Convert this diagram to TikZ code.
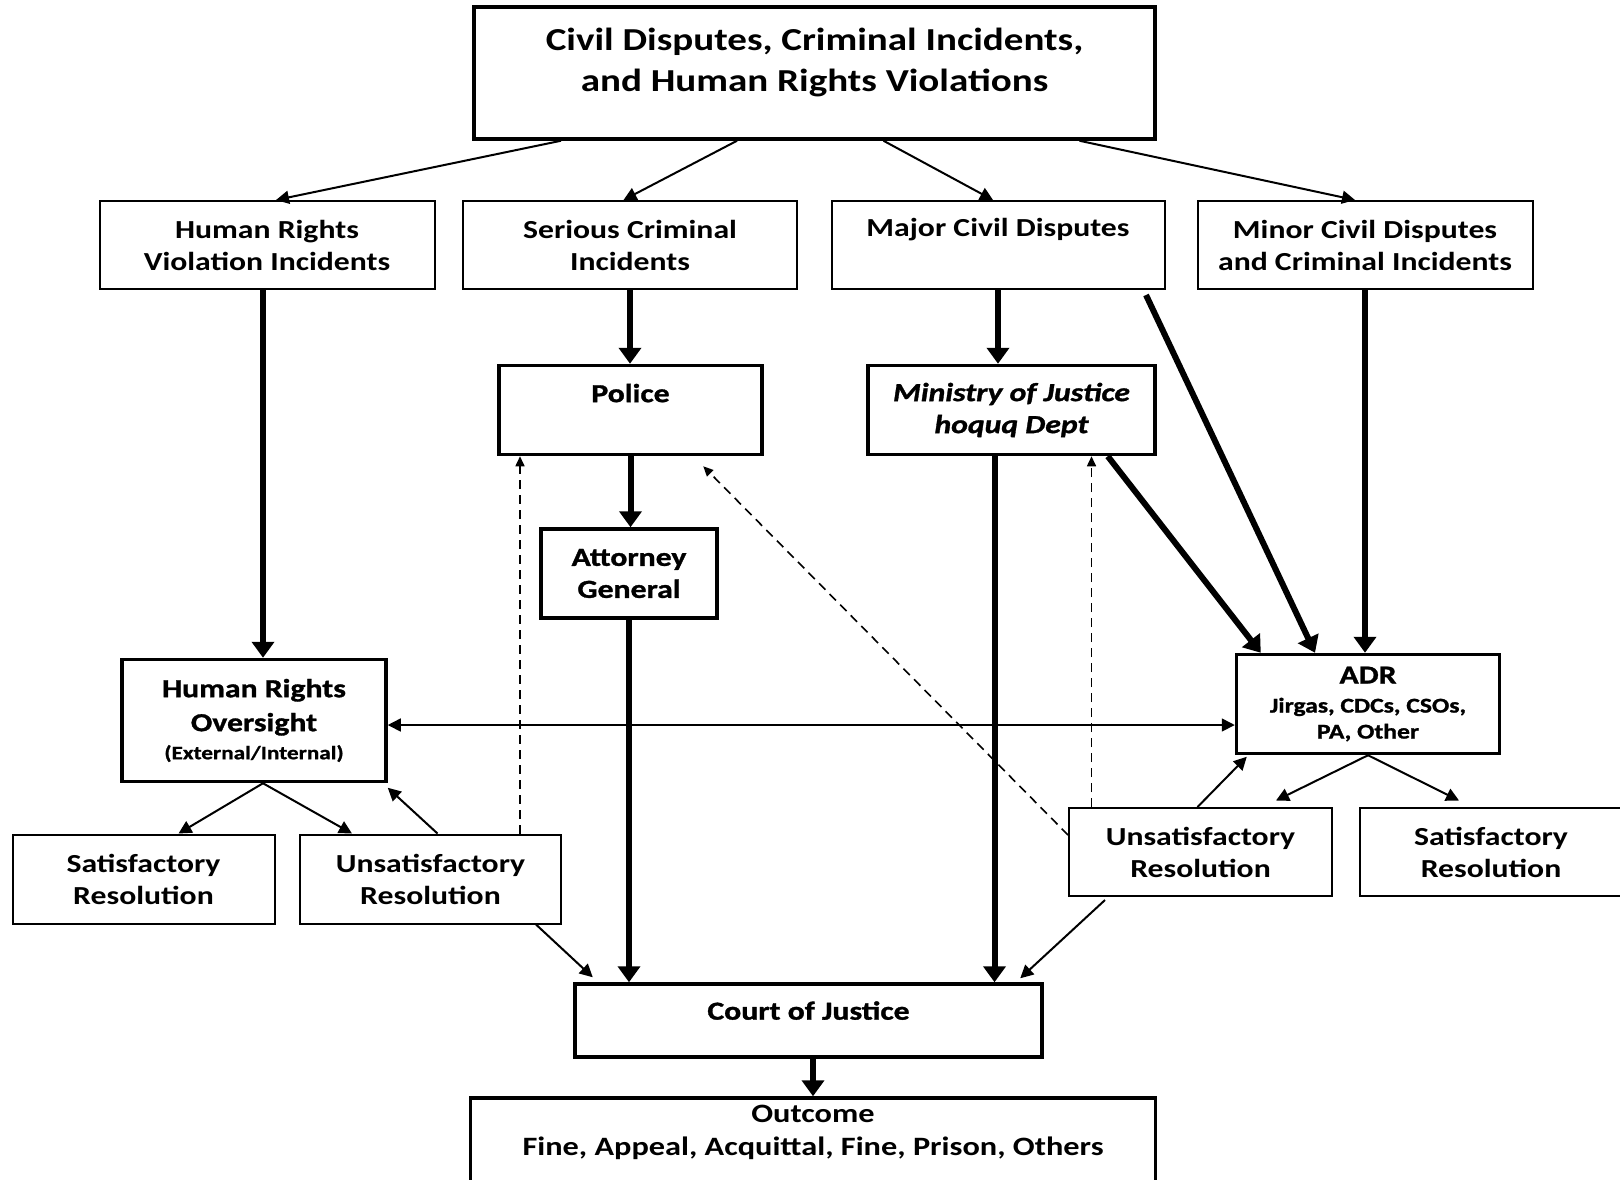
\documentclass[tikz,border=0pt]{standalone}
\usepackage{fontspec}
\setmainfont{Carlito}[FakeStretch=1.22]
\newfontfamily\heavyfont{Carlito}[FakeStretch=1.22, FakeBold=1.2]
\usetikzlibrary{arrows.meta,positioning}
\newcommand{\lowpad}[1][0pt]{\\[#1]\mbox{}}

\begin{document}
\begin{tikzpicture}[
    x=0.5pt, y=-0.5pt,
    boxfont/.style={font=\fontsize{13}{16}\selectfont\bfseries},
    heavytext/.style={font=\fontsize{13}{16}\selectfont\heavyfont\bfseries},
    thinbox/.style={draw, line width=1pt, inner sep=0, align=center, boxfont},
    thickbox/.style={draw, line width=1.75pt, inner sep=0, align=center, boxfont},
    bigarrow/.style={line width=3pt, -{Triangle[length=8pt, width=11pt]}},
    smallarrow/.style={line width=1pt, -{Triangle[length=6.5pt, width=6.5pt]}},
    twoway/.style={line width=0.8pt, {Triangle[length=6.5pt, width=6.5pt]}-{Triangle[length=6.5pt, width=6.5pt]}},
    dasharrow/.style={line width=0.8pt, dash pattern=on 4.5pt off 3pt, -{Triangle[length=5pt, width=4.5pt]}}]
\useasboundingbox (0,0) rectangle (1620,1179);
\clip (0,0) rectangle (1620,1179);

\node[thickbox, minimum width=340.5pt, minimum height=66pt, font=\fontsize{16}{20.5}\selectfont\bfseries] (top) at (814.5,73) {Civil Disputes, Criminal Incidents,\\and Human Rights Violations\lowpad[-7pt]};
\node[thinbox, minimum width=167.5pt, minimum height=44pt] (hrvi) at (267,245) {Human Rights\\Violation Incidents};
\node[thinbox, minimum width=167pt, minimum height=44pt] (sci) at (630,245) {Serious Criminal\\Incidents};
\node[thinbox, minimum width=166.5pt, minimum height=44pt] (mcd) at (998,245) {Major Civil Disputes\lowpad[2pt]};
\node[thinbox, minimum width=167.5pt, minimum height=44pt] (minor) at (1365,245) {Minor Civil Disputes\\and Criminal Incidents};
\node[thickbox, heavytext, minimum width=131.5pt, minimum height=44.5pt] (police) at (630.5,410) {Police\lowpad[1pt]};
\node[thickbox, minimum width=143.5pt, minimum height=44.5pt, font=\fontsize{13}{16}\selectfont\heavyfont\bfseries\itshape] (moj) at (1011.5,410) {Ministry of Justice\\hoquq Dept};
\node[thickbox, heavytext, minimum width=88pt, minimum height=44.5pt] (ag) at (629,573.5) {Attorney\\General};
\node[thickbox, heavytext, minimum width=132pt, minimum height=61pt] (hro) at (254,720.5) {Human Rights\\[1pt]Oversight\\[-2pt]{\fontsize{9.5}{11}\selectfont(External/Internal)}};
\node[thickbox, heavytext, minimum width=131.5pt, minimum height=49.5pt] (adr) at (1368,704) {ADR\\[-1.5pt]{\fontsize{10.5}{13}\selectfont Jirgas, CDCs, CSOs,}\\[-3pt]{\fontsize{10.5}{13}\selectfont PA, Other}};
\node[thinbox, minimum width=131pt, minimum height=44.5pt] (satl) at (143.5,879) {Satisfactory\\Resolution};
\node[thinbox, minimum width=130.5pt, minimum height=44.5pt] (unsatl) at (430.5,879) {Unsatisfactory\\Resolution};
\node[thinbox, minimum width=131.5pt, minimum height=44pt] (unsatr) at (1200.5,852) {Unsatisfactory\\Resolution};
\node[thinbox, minimum width=131pt, minimum height=44pt] (satr) at (1491,852) {Satisfactory\\Resolution};
\node[thickbox, heavytext, minimum width=233.5pt, minimum height=36.5pt] (court) at (808.5,1020.5) {Court of Justice\lowpad[-6pt]};
\node[thickbox, minimum width=342.5pt, minimum height=55pt, font=\fontsize{13.25}{16.5}\selectfont\bfseries] (outcome) at (813,1153) {Outcome\\Fine, Appeal, Acquittal, Fine, Prison, Others\lowpad[6pt]};

\path[draw, smallarrow] ([xshift=-126.75pt]top.south) -- ([xshift=4.5pt]hrvi.north);
\path[draw, smallarrow] ([xshift=-38.75pt]top.south) -- ([xshift=-3.25pt]sci.north);
\path[draw, smallarrow] ([xshift=34.5pt]top.south) -- ([xshift=-2.5pt]mcd.north);
\path[draw, smallarrow] ([xshift=132.5pt]top.south) -- ([xshift=-5pt]minor.north);

\path[draw, bigarrow] ([xshift=-2pt]hrvi.south) -- ([xshift=-2pt]hrvi.south |- hro.north);
\path[draw, bigarrow] (sci.south) -- (sci.south |- police.north);
\path[draw, bigarrow] (police.south) -- (police.south |- ag.north);
\path[draw, bigarrow] (ag.south) -- (ag.south |- court.north);
\path[draw, bigarrow] (mcd.south) -- (mcd.south |- moj.north);
\path[draw, bigarrow] ([xshift=-8.5pt]moj.south) -- ([xshift=-8.5pt]moj.south |- court.north);
\path[draw, bigarrow] ([xshift=-9.75pt, yshift=-2.5pt]mcd.south east) -- ([xshift=-26.5pt]adr.north);
\path[draw, bigarrow] ([xshift=-24.5pt]moj.south east) -- ([xshift=13pt]adr.north west);
\path[draw, bigarrow] (minor.south) -- (minor.south |- adr.north);
\path[draw, bigarrow] (outcome.north |- court.south) -- (outcome.north);

\path[draw, twoway] ([yshift=-2.25pt]hro.east) -- ([yshift=-2.25pt]hro.east -| adr.west);
\path[draw, smallarrow] ([xshift=4.5pt]hro.south) -- ([xshift=17.5pt]satl.north);
\path[draw, smallarrow] ([xshift=4.5pt]hro.south) -- ([xshift=-39.25pt]unsatl.north);
\path[draw, smallarrow] ([xshift=3.5pt]unsatl.north) -- ([yshift=-2.25pt]hro.south east);
\path[draw, smallarrow] ([xshift=-13pt]unsatl.south east) -- ([xshift=9.75pt, yshift=2.5pt]court.north west);
\path[draw, dasharrow] ([xshift=44.75pt]unsatl.north) -- ([xshift=44.75pt]unsatl.north |- police.south);

\path[draw, smallarrow] (adr.south) -- ([xshift=37.75pt, yshift=3.25pt]unsatr.north);
\path[draw, smallarrow] (adr.south) -- ([xshift=-16pt, yshift=3.25pt]satr.north);
\path[draw, smallarrow] ([xshift=-1.5pt]unsatr.north) -- ([xshift=6pt, yshift=-0.75pt]adr.south west);
\path[draw, smallarrow] ([xshift=18.5pt, yshift=-1.5pt]unsatr.south west) -- ([xshift=-11.75pt, yshift=2pt]court.north east);
\path[draw, dasharrow] ([xshift=-54.5pt]unsatr.north) -- ([xshift=-54.5pt]unsatr.north |- moj.south);
\path[draw, dasharrow] ([yshift=-14pt]unsatr.north west) -- ([xshift=-30.25pt, yshift=-5pt]police.south east);

\end{tikzpicture}
\end{document}
